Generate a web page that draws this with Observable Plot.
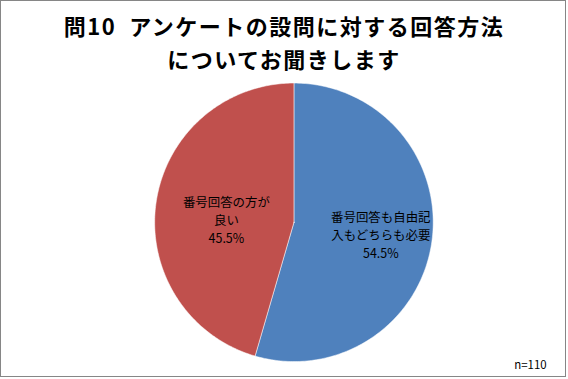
<!DOCTYPE html>
<html><head><meta charset="utf-8">
<script src="https://cdn.jsdelivr.net/npm/d3@7"></script>
<script src="https://cdn.jsdelivr.net/npm/@observablehq/plot@0.6"></script>
<style>
html,body{margin:0;padding:0;background:#fff;}
#frame{position:relative;width:566px;height:377px;box-sizing:border-box;border:1px solid #868686;overflow:hidden;font-family:"Noto Sans CJK JP",sans-serif;}
.title{position:absolute;left:0;width:566px;text-align:center;font-weight:bold;font-size:22px;line-height:32px;height:32px;color:#000;letter-spacing:1.5px;white-space:nowrap;}
#t1{top:8px;}
#t2{top:41px;}
#chart{position:absolute;left:-1px;top:0;}
</style></head>
<body>
<div id="frame"><div id="chart"></div><div class="title" id="t1">問10&nbsp;&nbsp;アンケートの設問に対する回答方法</div><div class="title" id="t2">についてお聞きします</div></div>
<script>
const categories = ["番号回答も自由記\n入もどちらも必要", "番号回答の方が\n良い"];
const values = [54.5, 45.5];
const colors = ["#4F81BD", "#C0504D"];
const sampleNote = "n=110";

const W = 568, H = 379, R = 140, cx = 295, cy = 222;
const pie = d3.pie().sort(null).value(d => d)(values);
const slices = pie.map((p, i) => {
  const pts = [{x: 0, y: 0}];
  const n = 200;
  for (let k = 0; k <= n; k++) {
    const a = p.startAngle + (p.endAngle - p.startAngle) * k / n;
    pts.push({x: Math.sin(a), y: Math.cos(a)});
  }
  pts.push({x: 0, y: 0});
  return pts;
});
const labelR = [0.63, 0.49];
const labels = pie.map((p, i) => {
  const a = (p.startAngle + p.endAngle) / 2;
  return {x: Math.sin(a) * labelR[i], y: Math.cos(a) * labelR[i] + (i === 1 ? -0.05 : 0), text: categories[i] + "\n" + values[i].toFixed(1) + "%"};
});

const plot = Plot.plot({
  width: W, height: H,
  margin: 0,
  x: {domain: [-cx / R, (W - cx) / R], axis: null},
  y: {domain: [-(H - cy) / R, cy / R], axis: null},
  style: {fontFamily: '"Noto Sans CJK JP", sans-serif', background: "transparent"},
  marks: [
    ...slices.map((s, i) => Plot.line(s, {x: "x", y: "y", fill: colors[i], stroke: "#ffffff", strokeOpacity: 0.5, strokeWidth: 1, curve: "linear-closed"})),
    Plot.text(labels, {x: "x", y: "y", text: "text", fontSize: 12.5, lineHeight: 1.45, fill: "#000"}),
    Plot.text([sampleNote], {frameAnchor: "bottom-right", dx: -19, dy: -10, fontSize: 11.5, fill: "#000"})
  ]
});
document.getElementById("chart").appendChild(plot);
</script>
</body></html>
